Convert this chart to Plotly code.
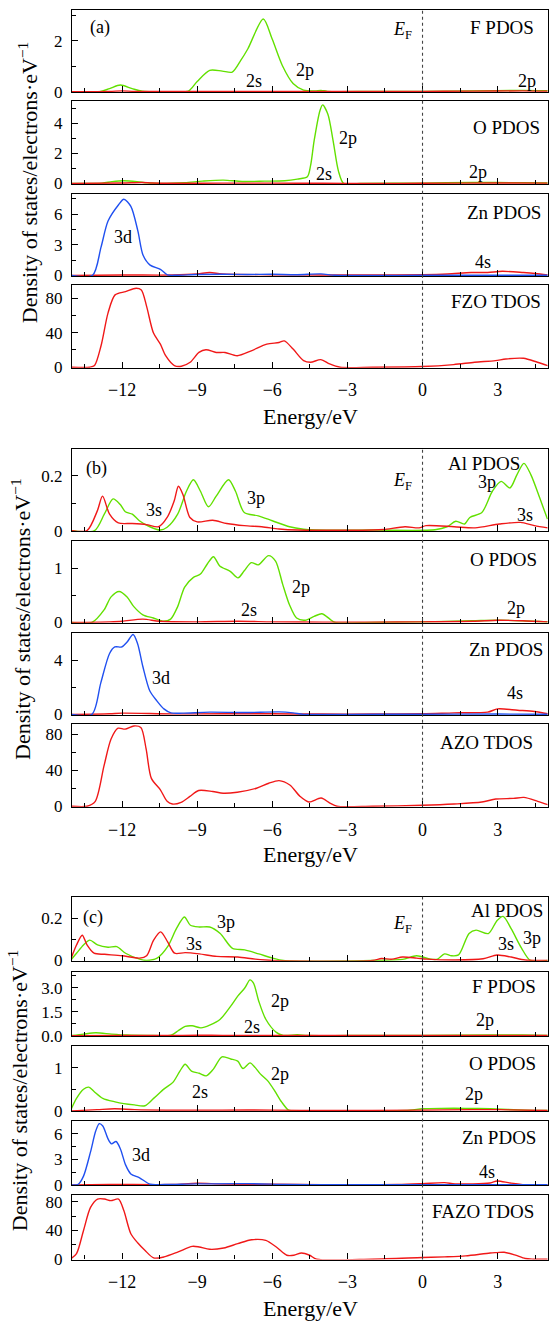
import plotly.graph_objects as go

W, H = 549, 1328
FONT = "Liberation Serif"
GREEN = "#62e000"
RED = "#f01818"
BLUE = "#2050f0"

# ---------------- data (energy in eV, DOS values) ----------------
# (a) FZO
a_F_p_x = [-14, -12.9, -12.5, -12.07, -11.6, -11.2, -10, -9.35, -9.0, -8.5, -8.0, -7.6, -7.26, -6.98, -6.36, -6.0, -5.6, -5.17, -4.75, -4.3, -4.05, -3.8, -2, 0, 2, 4, 5]
a_F_p_y = [0, 0, 0.12, 0.26, 0.12, 0.02, 0, 0.02, 0.4, 0.84, 0.81, 0.77, 1.23, 1.68, 2.86, 2.06, 1.03, 0.32, 0.06, 0.03, 0.05, 0.01, 0.01, 0.01, 0.03, 0.05, 0.04]
a_F_s_x = [-14, -12.5, -12, -11.5, -9, -6, -4, 0, 2, 4, 5]
a_F_s_y = [0, 0.01, 0.03, 0.01, 0.01, 0.01, 0.01, 0.01, 0.02, 0.03, 0.02]

a_O_p_x = [-14, -12.8, -12.4, -11.93, -11.4, -11.0, -10.5, -9.5, -8.8, -7.96, -7.2, -6.3, -5.5, -5.0, -4.6, -4.47, -4.33, -4.1, -3.99, -3.78, -3.57, -3.36, -3.15, -2.5, 0, 2, 4, 5]
a_O_p_y = [0, 0.02, 0.12, 0.18, 0.12, 0.04, 0, 0.05, 0.15, 0.22, 0.13, 0.15, 0.18, 0.29, 0.44, 1.2, 2.84, 4.84, 5.24, 4.62, 2.84, 0.84, 0, 0, 0.02, 0.06, 0.05, 0.03]
a_O_s_x = [-14, -12, -11.2, -10.8, -10, -8, -6, -4, -2, 0, 3, 5]
a_O_s_y = [0, 0.03, 0.06, 0.03, 0.01, 0.02, 0.02, 0.01, 0, 0.01, 0.03, 0.02]

a_Zn_d_x = [-14, -13.18, -12.84, -12.56, -12.14, -11.93, -11.65, -11.37, -11.16, -10.88, -10.47, -10.19, -9.8, -9, -8, -7, -6, -5, -4.06, -3.5, -2, 0, 3, 5]
a_Zn_d_y = [0, 0.02, 2.78, 5.33, 6.93, 7.47, 6.77, 4.37, 1.98, 1.02, 0.61, 0.06, 0.03, 0.1, 0.12, 0.1, 0.12, 0.08, 0.16, 0.02, 0.01, 0.02, 0.02, 0.02]
a_Zn_s_x = [-14, -12, -10, -9, -8.5, -8, -6, -4, -2, 0, 1, 1.94, 2.6, 3.19, 4.03, 4.5, 5]
a_Zn_s_y = [0, 0.05, 0.05, 0.15, 0.29, 0.15, 0.08, 0.05, 0.05, 0.08, 0.15, 0.29, 0.3, 0.41, 0.29, 0.2, 0.06]

a_T_x = [-14, -13.3, -13.1, -12.84, -12.56, -12.28, -11.86, -11.44, -11.23, -11.02, -10.75, -10.47, -10.26, -9.91, -9.63, -9.28, -8.93, -8.65, -8.24, -7.89, -7.4, -6.84, -6.22, -5.73, -5.52, -5.17, -4.75, -4.47, -4.06, -3.71, -3.29, -2, 0, 1.24, 2.08, 2.91, 3.33, 4.03, 4.59, 5]
a_T_y = [0, 0, 2, 24.8, 62.9, 83.8, 87.6, 91.4, 89.5, 70.5, 40, 26.7, 13.3, 1.9, 1.1, 5.7, 17.1, 20.2, 17.1, 17.1, 13.3, 19, 26.7, 28.6, 30.5, 21, 7.6, 5.7, 8.8, 3.8, 0, 0, 0.8, 3, 5.7, 7.6, 9.5, 10.3, 5.7, 1.9]

# (b) AZO
b_Al_s_x = [-14, -13.4, -12.99, -12.78, -12.5, -12.15, -11.6, -11.03, -10.54, -10.2, -9.92, -9.75, -9.57, -9.29, -9.0, -8.38, -7.82, -7.12, -6.42, -5.73, -5.0, -2, -1.54, -0.7, -0.14, 0.14, 1.26, 2.1, 3.07, 3.91, 4.47, 5]
b_Al_s_y = [0, 0, 0.072, 0.126, 0.06, 0.028, 0.026, 0.022, 0.014, 0.048, 0.108, 0.162, 0.132, 0.048, 0.032, 0.038, 0.026, 0.018, 0.014, 0.006, 0.002, 0.002, 0.004, 0.014, 0.01, 0.018, 0.014, 0.01, 0.024, 0.03, 0.018, 0.01]
b_Al_p_x = [-14, -13.1, -12.71, -12.36, -12.08, -11.87, -11.59, -11.31, -10.89, -10.47, -10.2, -9.78, -9.43, -9.15, -8.87, -8.55, -8.24, -7.75, -7.47, -7.12, -6.56, -6.0, -5.31, -4.75, -4.3, -2, 0.5, 0.98, 1.33, 1.68, 1.89, 2.37, 2.79, 3.14, 3.49, 3.77, 4.05, 4.33, 4.68, 4.99]
b_Al_p_y = [0, 0, 0.06, 0.116, 0.096, 0.069, 0.06, 0.036, 0.014, 0.002, 0.012, 0.06, 0.144, 0.186, 0.144, 0.087, 0.126, 0.186, 0.144, 0.066, 0.054, 0.036, 0.014, 0.005, 0.002, 0.002, 0.003, 0.014, 0.034, 0.024, 0.048, 0.066, 0.144, 0.18, 0.156, 0.204, 0.246, 0.204, 0.12, 0.042]

b_O_p_x = [-14, -13.2, -12.72, -12.44, -12.12, -11.8, -11.53, -11.17, -10.75, -10.34, -10.06, -9.78, -9.5, -9.15, -8.87, -8.59, -8.35, -8.1, -7.68, -7.37, -7.12, -6.84, -6.56, -6.15, -5.87, -5.59, -5.31, -5.03, -4.69, -4.33, -4.02, -3.7, -3.5, -2, 0, 2, 3, 4, 5]
b_O_p_y = [0, 0, 0.23, 0.47, 0.57, 0.47, 0.29, 0.14, 0.08, 0.02, 0.06, 0.29, 0.65, 0.83, 0.89, 1.08, 1.21, 1.04, 0.94, 0.82, 0.95, 1.10, 1.06, 1.23, 1.13, 0.71, 0.32, 0.08, 0.04, 0.11, 0.16, 0.06, 0, 0, 0.01, 0.03, 0.04, 0.03, 0.01]
b_O_s_x = [-14, -12.5, -12, -11.17, -10.5, -9, -7.37, -6, -4, -2, 0, 2, 3, 4, 5]
b_O_s_y = [0, 0.01, 0.02, 0.06, 0.02, 0.01, 0.02, 0.01, 0.005, 0.005, 0.01, 0.02, 0.04, 0.03, 0.01]

b_Zn_d_x = [-14, -13.2, -12.85, -12.5, -12.29, -12.01, -11.8, -11.56, -11.38, -11.17, -10.89, -10.61, -10.33, -10.05, -9.6, -8.5, -7.1, -5.73, -5.17, -4.75, -3, 0, 3, 5]
b_Zn_d_y = [0, 0.02, 2.32, 4.48, 4.96, 4.96, 5.32, 5.87, 5.2, 3.52, 1.72, 1.0, 0.41, 0.12, 0.1, 0.17, 0.14, 0.19, 0.12, 0.01, 0.01, 0.02, 0.03, 0.02]
b_Zn_s_x = [-14, -12.5, -12, -10, -8, -6, -4, -2, 0, 1.26, 2.6, 3.0, 3.8, 4.47, 5]
b_Zn_s_y = [0, 0.05, 0.1, 0.04, 0.05, 0.05, 0.03, 0.03, 0.05, 0.12, 0.17, 0.41, 0.31, 0.22, 0.05]

b_T_x = [-14, -13.4, -13.07, -12.72, -12.44, -12.16, -11.88, -11.53, -11.25, -11.04, -10.83, -10.47, -10.2, -9.99, -9.64, -9.29, -8.94, -8.38, -7.96, -7.4, -6.63, -6.14, -5.73, -5.3, -4.89, -4.54, -4.05, -3.7, -3.42, -2, 0, 1.26, 2.37, 2.93, 3.63, 4.05, 4.6, 5]
b_T_y = [0, 0, 5.5, 45, 74.5, 86.5, 85.5, 89, 87.3, 63.6, 30.9, 18.2, 5.5, 2.5, 4.4, 10.9, 17.5, 16.4, 14.5, 15.6, 20, 25.5, 28.4, 23.6, 10.9, 4.7, 9.1, 3.6, 0, 0, 1.1, 2.5, 4.7, 8, 8.7, 9.8, 5.5, 1.8]

# (c) FAZO
c_Al_s_x = [-14.05, -13.82, -13.59, -13.4, -13.12, -12.7, -12.0, -11.3, -11.02, -10.74, -10.46, -10.18, -9.9, -9.48, -8.92, -8.22, -7.38, -6.68, -6.0, -2, -1.64, -1.22, -0.8, -0.24, 0.18, 1.3, 2.42, 2.98, 3.54, 4.1, 5]
c_Al_s_y = [0.005, 0.073, 0.119, 0.073, 0.034, 0.029, 0.022, 0.011, 0.022, 0.096, 0.135, 0.088, 0.034, 0.037, 0.031, 0.019, 0.016, 0.006, 0, 0, 0.009, 0.006, 0.016, 0.011, 0.006, 0.002, 0.008, 0.026, 0.016, 0.002, 0]
c_Al_p_x = [-14.05, -13.82, -13.54, -13.29, -12.98, -12.56, -12.21, -11.86, -11.3, -11.02, -10.6, -10.18, -9.83, -9.51, -9.27, -8.92, -8.5, -8.08, -7.59, -7.1, -6.54, -5.98, -5.56, -2, -0.8, -0.24, 0.32, 0.6, 0.88, 1.16, 1.44, 1.86, 2.14, 2.63, 2.98, 3.22, 3.54, 3.96, 4.31, 5]
c_Al_p_y = [0.002, 0.034, 0.073, 0.096, 0.073, 0.062, 0.065, 0.034, 0.006, 0, 0.011, 0.065, 0.15, 0.205, 0.166, 0.158, 0.158, 0.127, 0.057, 0.05, 0.031, 0.011, 0, 0, 0.005, 0.022, 0.006, 0.006, 0.031, 0.022, 0.026, 0.127, 0.143, 0.127, 0.189, 0.208, 0.15, 0.057, 0, 0]

c_F_p_x = [-14.05, -13.54, -13.05, -12.42, -11.8, -11, -10.04, -9.76, -9.48, -9.2, -8.85, -8.5, -8.08, -7.66, -7.38, -7.1, -6.89, -6.75, -6.54, -6.26, -5.84, -5.56, -5.0, -4.58, -3, 0, 2.7, 4, 5]
c_F_p_y = [0, 0.1, 0.18, 0.1, 0.04, 0.02, 0.04, 0.31, 0.58, 0.62, 0.49, 0.66, 1.03, 1.85, 2.47, 2.98, 3.49, 3.29, 2.16, 1.03, 0.21, 0.02, 0.06, 0.01, 0.01, 0.02, 0.05, 0.04, 0.02]
c_F_s_x = [-14.05, -12, -10, -9, -8, -6, -4, 0, 3, 5]
c_F_s_y = [0, 0.01, 0.01, 0.03, 0.02, 0.01, 0.01, 0.01, 0.02, 0.01]

c_O_p_x = [-14.05, -13.82, -13.54, -13.33, -13.12, -12.77, -12.28, -11.93, -11.51, -11.09, -10.74, -10.32, -9.97, -9.69, -9.48, -9.23, -8.92, -8.64, -8.36, -8.01, -7.66, -7.38, -7.17, -6.89, -6.68, -6.47, -6.19, -5.91, -5.63, -5.35, -5.0, -2, -0.5, 0, 0.74, 1.72, 2.7, 4.1, 5]
c_O_p_y = [0.02, 0.29, 0.5, 0.55, 0.45, 0.29, 0.21, 0.17, 0.14, 0.12, 0.29, 0.51, 0.66, 0.92, 1.08, 0.92, 0.87, 0.81, 0.96, 1.25, 1.2, 1.15, 0.98, 1.11, 1.0, 0.85, 0.7, 0.47, 0.21, 0.02, 0, 0, 0.02, 0.05, 0.06, 0.06, 0.05, 0.02, 0.01]
c_O_s_x = [-14.05, -13, -12.3, -11.5, -10, -8, -6, -4, 0, 2, 3, 5]
c_O_s_y = [0, 0.03, 0.05, 0.03, 0.02, 0.02, 0.02, 0.01, 0.02, 0.03, 0.03, 0.01]

c_Zn_d_x = [-14.05, -13.75, -13.54, -13.26, -13.05, -12.91, -12.77, -12.56, -12.42, -12.24, -12.07, -11.86, -11.65, -11.3, -10.88, -10.3, -9, -7, -5.5, -4.5, 0, 5]
c_Zn_d_y = [0, 0.08, 1.03, 3.87, 6.34, 7.18, 6.91, 5.39, 4.82, 5.09, 4.25, 2.35, 1.29, 0.84, 0.08, 0.05, 0.12, 0.15, 0.05, 0.02, 0.02, 0.02]
c_Zn_s_x = [-14.05, -12.5, -10, -9, -8, -6, -4, -1, 0, 0.88, 1.3, 2.7, 2.98, 3.5, 4.1, 5]
c_Zn_s_y = [0, 0.05, 0.05, 0.2, 0.1, 0.08, 0.04, 0.05, 0.15, 0.27, 0.12, 0.23, 0.46, 0.23, 0.03, 0]

c_T_x = [-14.05, -13.82, -13.54, -13.26, -12.98, -12.7, -12.45, -12.14, -11.93, -11.65, -11.37, -11.09, -10.74, -10.32, -9.76, -9.2, -8.92, -8.5, -7.94, -7.38, -6.82, -6.26, -5.84, -5.42, -5.14, -4.83, -4.51, -4.23, -2, 0, 0.88, 1.72, 2.7, 2.98, 3.26, 3.68, 4.1, 4.4, 5]
c_T_y = [0.5, 7.8, 40, 72, 83.7, 83.7, 81.4, 83.7, 67.6, 35.4, 22.5, 12.4, 1.8, 3.2, 10.1, 17.9, 17, 13.8, 15.6, 21.6, 27.1, 26.2, 17, 5.5, 5.5, 8.7, 5.5, 0, 0, 2.3, 3.2, 4.6, 8.7, 9.2, 9.7, 6, 0.9, 0, 0]

x_tickvals = [-12, -9, -6, -3, 0, 3]
x_ticktext = ["\u221212", "\u22129", "\u22126", "\u22123", "0", "3"]

# ---------------- layout helpers ----------------
def py(p):
    return 1 - p / H

def px(p):
    return p / W

X_DOM = [px(72), px(547.7)]

# group, top px, bottom px, ymax, tickvals, ticktext, minor dtick, curves, is_bottom
panels = [
    ("a", 7.5, 90, 3.2, [0, 2], ["0", "2"], 1, [(a_F_p_x, a_F_p_y, GREEN), (a_F_s_x, a_F_s_y, RED)], False),
    ("a", 99, 182.7, 5.5, [0, 2, 4], ["0", "2", "4"], 1, [(a_O_p_x, a_O_p_y, GREEN), (a_O_s_x, a_O_s_y, RED)], False),
    ("a", 192.7, 275.7, 8, [0, 3, 6], ["0", "3", "6"], 1.5, [(a_Zn_s_x, a_Zn_s_y, RED), (a_Zn_d_x, a_Zn_d_y, BLUE)], False),
    ("a", 285, 368.3, 95, [0, 40, 80], ["0", "40", "80"], 20, [(a_T_x, a_T_y, RED)], True),
    ("b", 450, 533.3, 0.3, [0, 0.2], ["0", "0.2"], 0.1, [(b_Al_p_x, b_Al_p_y, GREEN), (b_Al_s_x, b_Al_s_y, RED)], False),
    ("b", 543.3, 626, 1.5, [0, 1], ["0", "1"], 0.5, [(b_O_p_x, b_O_p_y, GREEN), (b_O_s_x, b_O_s_y, RED)], False),
    ("b", 636, 719, 6, [0, 4], ["0", "4"], 2, [(b_Zn_s_x, b_Zn_s_y, RED), (b_Zn_d_x, b_Zn_d_y, BLUE)], False),
    ("b", 728.3, 811.7, 91, [0, 40, 80], ["0", "40", "80"], 20, [(b_T_x, b_T_y, RED)], True),
    ("c", 902.7, 967.3, 0.3, [0, 0.2], ["0", "0.2"], 0.1, [(c_Al_p_x, c_Al_p_y, GREEN), (c_Al_s_x, c_Al_s_y, RED)], False),
    ("c", 978.3, 1043.3, 4, [0, 1.5, 3], ["0.0", "1.5", "3.0"], 0.75, [(c_F_p_x, c_F_p_y, GREEN), (c_F_s_x, c_F_s_y, RED)], False),
    ("c", 1053.3, 1119.3, 1.5, [0, 1], ["0", "1"], 0.5, [(c_O_p_x, c_O_p_y, GREEN), (c_O_s_x, c_O_s_y, RED)], False),
    ("c", 1129, 1194, 7.5, [0, 3, 6], ["0", "3", "6"], 1.5, [(c_Zn_s_x, c_Zn_s_y, RED), (c_Zn_d_x, c_Zn_d_y, BLUE)], False),
    ("c", 1204, 1269, 89, [0, 40, 80], ["0", "40", "80"], 20, [(c_T_x, c_T_y, RED)], True),
]

fig = go.Figure()
layout = dict(
    width=W, height=H,
    margin=dict(l=0, r=0, t=0, b=0),
    paper_bgcolor="white", plot_bgcolor="white",
    showlegend=False,
    font=dict(family=FONT, size=17, color="black"),
)

group_first = {}
group_span = {}
for i, (g, top, bot, ymax, tv, tt, mdt, curves, is_bottom) in enumerate(panels, start=1):
    xa = "x" if i == 1 else f"x{i}"
    ya = "y" if i == 1 else f"y{i}"
    xkey = "xaxis" if i == 1 else f"xaxis{i}"
    ykey = "yaxis" if i == 1 else f"yaxis{i}"
    group_first.setdefault(g, xa)
    span = group_span.setdefault(g, [top, bot])
    span[0] = min(span[0], top)
    span[1] = max(span[1], bot)
    for xs, ys, col in curves:
        fig.add_trace(go.Scatter(
            x=xs, y=ys, mode="lines", xaxis=xa, yaxis=ya,
            line=dict(color=col, width=1.4, shape="spline", smoothing=0.8),
            hoverinfo="skip",
        ))
    layout[xkey] = dict(
        domain=X_DOM, anchor=ya, range=[-14, 5],
        tickmode="array", tickvals=x_tickvals, ticktext=x_ticktext,
        ticks="inside", ticklen=6, tickwidth=1.2, tickcolor="black",
        minor=dict(dtick=1.5, tick0=0, ticks="inside", ticklen=4, tickwidth=1.1, tickcolor="black"),
        showticklabels=is_bottom,
        showline=True, mirror=True, linecolor="black", linewidth=1.3,
        showgrid=False, zeroline=False,
        tickfont=dict(size=18, family=FONT, color="black"),
        ticklabelstandoff=6,
    )
    pad = ymax * 0.006
    layout[ykey] = dict(
        domain=[py(bot), py(top)], anchor=xa, range=[-pad, ymax],
        tickmode="array", tickvals=tv, ticktext=tt,
        ticks="inside", ticklen=6, tickwidth=1.2, tickcolor="black",
        minor=dict(dtick=mdt, tick0=0, ticks="inside", ticklen=4, tickwidth=1.1, tickcolor="black"),
        showline=True, mirror=True, linecolor="black", linewidth=1.3,
        showgrid=False, zeroline=False,
        tickfont=dict(size=17, family=FONT, color="black"),
        ticklabelstandoff=5,
    )

fig.update_layout(**layout)

# Fermi level dotted lines
shapes = []
for g, xa in group_first.items():
    top, bot = group_span[g]
    shapes.append(dict(type="line", xref=xa, yref="paper", x0=0, x1=0,
                       y0=py(bot), y1=py(top),
                       line=dict(color="#444444", width=1.1, dash="dot")))
fig.update_layout(shapes=shapes)

# text labels: (text, x px, y px, xanchor, size)
labels = [
    ("(a)", 100, 25, "center", 18),
    ("<i>E</i><sub>F</sub>", 402.6, 28, "center", 18),
    ("F PDOS", 535.7, 25, "right", 19),
    ("2s", 254, 79, "center", 18), ("2p", 304.6, 68, "center", 18), ("2p", 527, 79, "center", 18),
    ("O PDOS", 542, 126, "right", 19),
    ("2p", 348, 136, "center", 18), ("2s", 324, 173, "center", 18), ("2p", 478, 171, "center", 18),
    ("Zn PDOS", 542.7, 211.7, "right", 19),
    ("3d", 122.5, 236, "center", 18), ("4s", 483, 261.7, "center", 18),
    ("FZO TDOS", 542.7, 301.7, "right", 19),
    ("(b)", 96, 470, "center", 18),
    ("<i>E</i><sub>F</sub>", 402.6, 483, "center", 18),
    ("Al PDOS", 521.7, 465, "right", 19),
    ("3s", 154, 511.7, "center", 18), ("3p", 255.6, 500, "center", 18),
    ("3p", 486.7, 483.3, "center", 18), ("3s", 525, 517, "center", 18),
    ("O PDOS", 538.5, 561.7, "right", 19),
    ("2p", 301, 590, "center", 18), ("2s", 248.6, 613, "center", 18), ("2p", 516, 610.7, "center", 18),
    ("Zn PDOS", 544.5, 653, "right", 19),
    ("3d", 161, 682, "center", 18), ("4s", 515.4, 697, "center", 18),
    ("AZO TDOS", 534.7, 746.7, "right", 19),
    ("(c)", 92.8, 924, "center", 18),
    ("<i>E</i><sub>F</sub>", 402, 931, "center", 18),
    ("Al PDOS", 544.5, 916.7, "right", 19),
    ("3p", 225.8, 927.7, "center", 18), ("3s", 194, 950, "center", 18),
    ("3s", 506, 950.7, "center", 18), ("3p", 532, 944, "center", 18),
    ("F PDOS", 537.5, 993.3, "right", 19),
    ("2p", 280, 1007.7, "center", 18), ("2s", 252, 1034, "center", 18), ("2p", 485, 1027, "center", 18),
    ("O PDOS", 537.5, 1070.7, "right", 19),
    ("2p", 280, 1081.7, "center", 18), ("2s", 199.6, 1100, "center", 18), ("2p", 474.4, 1101.7, "center", 18),
    ("Zn PDOS", 537.5, 1146, "right", 19),
    ("3d", 141, 1163.3, "center", 18), ("4s", 487.4, 1180.7, "center", 18),
    ("FAZO TDOS", 535.7, 1220, "right", 19),
]
annots = []
for text, x, y, xa, size in labels:
    annots.append(dict(text=text, x=px(x), y=py(y), xref="paper", yref="paper",
                       xanchor=xa, yanchor="middle", showarrow=False,
                       font=dict(size=size, family=FONT, color="black")))

# axis titles
for ytitle_px, xcenter in [(181, 28), (622, 21), (1098, 18)]:
    annots.append(dict(text="Density of states/electrons\u00b7eV<sup>\u22121</sup>",
                       x=px(xcenter), y=py(ytitle_px), xref="paper", yref="paper",
                       xanchor="center", yanchor="middle", textangle=-90, showarrow=False,
                       font=dict(size=22, family=FONT, color="black")))
for ypix in [418, 860, 1318]:
    annots.append(dict(text="Energy/eV", x=px(310), y=py(ypix), xref="paper", yref="paper",
                       xanchor="center", yanchor="middle", showarrow=False,
                       font=dict(size=22, family=FONT, color="black")))
fig.update_layout(annotations=annots)

fig.write_html(
    "out.html",
    config={"displayModeBar": False},
    post_script="document.body.style.margin='0';document.body.style.overflow='hidden';",
)
